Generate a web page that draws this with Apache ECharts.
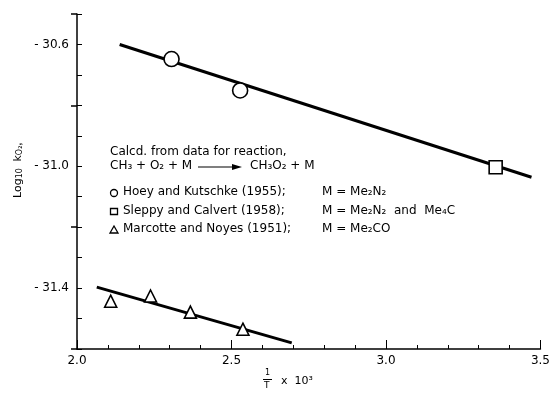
<!DOCTYPE html>
<html>
<head>
<meta charset="utf-8">
<script src="https://cdn.jsdelivr.net/npm/echarts@6/dist/echarts.min.js"></script>
<style>
	html, body { margin: 0; padding: 0; background: #fff; }
	#box { width: 553px; height: 393px; }
</style>
</head>
<body>
<div id="box"></div>
<script>
	// data (x = 1/T x 10^3, y = log10 k)
	var hoeyPts = [[2.306, -30.648], [2.528, -30.751]];
	var sleppyPts = [[3.355, -31.003]];
	var marcottePts = [[2.109, -31.443], [2.238, -31.426], [2.367, -31.479], [2.537, -31.535]];
	var upperFit = [[2.138, -30.600], [3.471, -31.036]];
	var lowerFit = [[2.064, -31.397], [2.695, -31.580]];
	var yLabelled = [-30.6, -31.0, -31.4];
	var xLabelled = [2.0, 2.5, 3.0, 3.5];

	var font = '"DejaVu Sans", sans-serif';
	var box = document.getElementById('box');
	var myChart = echarts.init(box);

	function isLabelled(v, list) {
		for (var i = 0; i < list.length; i++) {
			if (Math.abs(v - list[i]) < 1e-6) return true;
		}
		return false;
	}

	var openSym = { color: '#fff', borderColor: '#000', borderWidth: 1.6, opacity: 1 };
	var txt = '12px ' + font;

	var option = {
		animation: false,
		backgroundColor: '#fff',
		grid: { left: 77, right: 10, top: 14, bottom: 44 },
		xAxis: [{
			type: 'value', min: 2.0, max: 3.5, interval: 0.1,
			axisLine: { onZero: false, lineStyle: { color: '#000', width: 1.5 } },
			axisTick: { inside: true, length: 4, lineStyle: { color: '#000' } },
			splitLine: { show: false },
			axisLabel: {
				margin: 6, color: '#000', fontSize: 12, fontFamily: font,
				formatter: function (v) { return isLabelled(v, xLabelled) ? v.toFixed(1) : ''; }
			}
		}, {
			// longer ticks at the labelled values
			type: 'value', min: 2.0, max: 3.5, interval: 0.5, position: 'bottom',
			axisLine: { show: false, onZero: false },
			axisTick: { inside: true, length: 9, lineStyle: { color: '#000' } },
			axisLabel: { show: false },
			splitLine: { show: false }
		}],
		yAxis: [{
			type: 'value', min: -31.6, max: -30.5, interval: 0.1,
			axisLine: { onZero: false, lineStyle: { color: '#000', width: 1.5 } },
			axisTick: { inside: true, length: 5, lineStyle: { color: '#000' } },
			splitLine: { show: false },
			axisLabel: {
				margin: 8, color: '#000', fontSize: 12, fontFamily: font,
				formatter: function (v) {
					return isLabelled(v, yLabelled) ? '- ' + Math.abs(v).toFixed(1) : '';
				}
			}
		}, {
			// shifted scale so that ticks fall on -31.4, -31.0, -30.6
			type: 'value', min: -0.2, max: 0.9, interval: 0.4, position: 'left',
			axisLine: { show: false, onZero: false },
			axisTick: { inside: false, length: 6, lineStyle: { color: '#000', width: 1.5 } },
			axisLabel: { show: false },
			splitLine: { show: false }
		}],
		series: [
			{ type: 'line', data: upperFit, symbol: 'none', lineStyle: { color: '#000', width: 3 } },
			{ type: 'line', data: lowerFit, symbol: 'none', lineStyle: { color: '#000', width: 3 } },
			{ type: 'scatter', data: hoeyPts, symbol: 'circle', symbolSize: 15, itemStyle: openSym, z: 5 },
			{ type: 'scatter', data: sleppyPts, symbol: 'rect', symbolSize: 13, itemStyle: openSym, z: 5 },
			{ type: 'scatter', data: marcottePts, symbol: 'triangle', symbolSize: 12, itemStyle: openSym, z: 5 }
		],
		graphic: [
			// y axis title
			{
				type: 'text', x: 12, y: 198, rotation: Math.PI / 2,
				style: {
					text: '{a|Log}{s|10}  {a|k}{s|O₂},',
					fill: '#000',
					rich: {
						a: { fontSize: 11, fontFamily: font, verticalAlign: 'bottom' },
						s: { fontSize: 8, fontFamily: font, verticalAlign: 'bottom', padding: [4, 0, 0, 0] }
					}
				}
			},
			// x axis title: 1/T x 10^3
			{ type: 'text', x: 265, y: 369, style: { text: '1', font: '8px ' + font, fill: '#000' } },
			{ type: 'rect', shape: { x: 263, y: 379, width: 9, height: 1 }, style: { fill: '#000' } },
			{ type: 'text', x: 264, y: 381, style: { text: 'T', font: '9px ' + font, fill: '#000' } },
			{ type: 'text', x: 281, y: 376, style: { text: 'x  10³', font: '11px ' + font, fill: '#000' } },
			// annotation block
			{ type: 'text', x: 110, y: 146, style: { text: 'Calcd. from data for reaction,', font: txt, fill: '#000' } },
			{ type: 'text', x: 110, y: 160, style: { text: 'CH₃ + O₂ + M', font: txt, fill: '#000' } },
			{ type: 'line', shape: { x1: 198, y1: 167, x2: 236, y2: 167 }, style: { stroke: '#000', lineWidth: 1.2 } },
			{ type: 'polygon', shape: { points: [[242, 167], [232, 164], [232, 170]] }, style: { fill: '#000' } },
			{ type: 'text', x: 250, y: 160, style: { text: 'CH₃O₂ + M', font: txt, fill: '#000' } },

			{ type: 'circle', shape: { cx: 114, cy: 193, r: 3.5 }, style: { fill: '#fff', stroke: '#000', lineWidth: 1.3 } },
			{ type: 'text', x: 123, y: 186, style: { text: 'Hoey and Kutschke (1955);', font: txt, fill: '#000' } },
			{ type: 'text', x: 322, y: 186, style: { text: 'M = Me₂N₂', font: txt, fill: '#000' } },

			{ type: 'rect', shape: { x: 110.5, y: 208.5, width: 7, height: 6 }, style: { fill: '#fff', stroke: '#000', lineWidth: 1.3 } },
			{ type: 'text', x: 123, y: 205, style: { text: 'Sleppy and Calvert (1958);', font: txt, fill: '#000' } },
			{ type: 'text', x: 322, y: 205, style: { text: 'M = Me₂N₂  and  Me₄C', font: txt, fill: '#000' } },

			{ type: 'polygon', shape: { points: [[114, 226], [110, 233], [118, 233]] }, style: { fill: '#fff', stroke: '#000', lineWidth: 1.3 } },
			{ type: 'text', x: 123, y: 223, style: { text: 'Marcotte and Noyes (1951);', font: txt, fill: '#000' } },
			{ type: 'text', x: 322, y: 223, style: { text: 'M = Me₂CO', font: txt, fill: '#000' } }
		]
	};

	myChart.setOption(option);
</script>
</body>
</html>
